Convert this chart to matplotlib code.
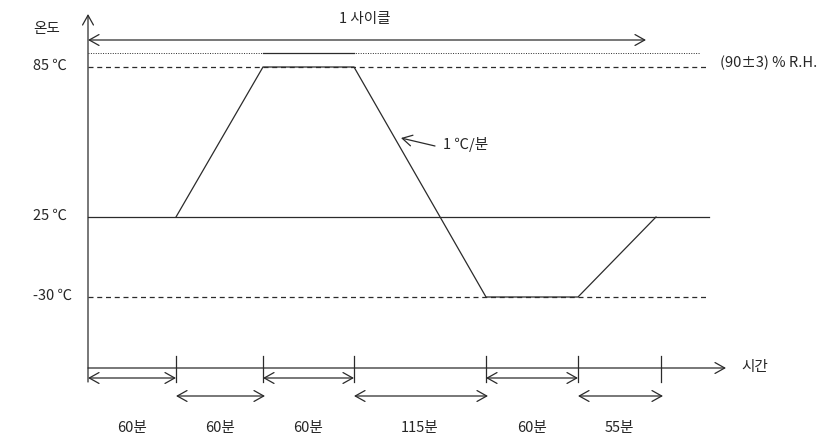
import matplotlib
matplotlib.use("Agg")
import matplotlib.pyplot as plt

plt.rcParams['font.family'] = ['Noto Sans CJK KR', 'DejaVu Sans']

# ---- data ----
durations = [60, 60, 60, 115, 60, 55]            # minutes per segment
duration_labels = [f"{d}분" for d in durations]
profile_temps = [25, 25, 85, 85, -30, -30, 25]  # temperature at each breakpoint
level_temps = [85, 25, -30]
level_labels = ["85 ℃", "25 ℃", "-30 ℃"]
rate_label = "1 ℃/분"
humidity_label = "(90±3) % R.H."
cycle_label = "1 사이클"
y_label = "온도"
x_label = "시간"

# ---- schematic layout (pixel positions of the diagram) ----
bx = [88, 176, 263, 354, 486, 578, 661]          # breakpoint x positions
level_y = {85: 67, 25: 217, -30: 297}
ramp_end_x = 656
axis_y = 368

W, H = 832, 437
fig = plt.figure(figsize=(W / 100, H / 100), dpi=100)
ax = fig.add_axes([0, 0, 1, 1])
ax.set_xlim(0, W)
ax.set_ylim(H, 0)
ax.axis('off')

lc = '#2b2b2b'
tc = '#262626'
lw = 0.9
fs = 10.5
head2 = '<->, head_length=0.5, head_width=0.28'
head1 = '->, head_length=0.5, head_width=0.28'


def arrow(x0, y0, x1, y1, style):
    ax.annotate('', xy=(x1, y1), xytext=(x0, y0),
                arrowprops=dict(arrowstyle=style, color=lc, lw=lw, mutation_scale=14,
                                shrinkA=0, shrinkB=0))


# profile polyline
xs = [bx[1], bx[2], bx[3], bx[4], bx[5], ramp_end_x]
ys = [level_y[t] for t in profile_temps[1:]]
ax.plot(xs, ys, color=lc, lw=lw, solid_joinstyle='miter')

# level lines
ax.plot([bx[0], 709], [level_y[25], level_y[25]], color=lc, lw=lw)
ax.plot([bx[0], 706], [level_y[85], level_y[85]], color=lc, lw=lw, dashes=(4, 3))
ax.plot([bx[0], 706], [level_y[-30], level_y[-30]], color=lc, lw=lw, dashes=(4, 3))
# humidity dotted line with solid portion over the 85 dwell
ax.plot([bx[0], 700], [53, 53], color=lc, lw=0.7, dashes=(1, 1.5))
ax.plot([bx[2], bx[3]], [53, 53], color=lc, lw=lw)

# axes
arrow(bx[0], 382, bx[0], 14, head1)
arrow(bx[0], axis_y, 726, axis_y, head1)
for x in bx[1:]:
    ax.plot([x, x], [356, 382], color=lc, lw=lw)

# cycle arrow
arrow(bx[0], 40, 646, 40, head2)
ax.text(365, 19, cycle_label, ha='center', va='center', fontsize=fs, color=tc)

# duration arrows
row_y = [378, 396]
for i, lab in enumerate(duration_labels):
    y = row_y[i % 2]
    x0, x1 = bx[i], bx[i + 1]
    arrow(x0, y, x1 + (2 if i % 2 else 0), y, head2)
    ax.text((x0 + x1) / 2, 428, lab, ha='center', va='center', fontsize=fs, color=tc)

# labels
ax.text(47, 29, y_label, ha='center', va='center', fontsize=fs, color=tc)
for t, lab in zip(level_temps, level_labels):
    ax.text(33, level_y[t] - 1, lab, ha='left', va='center', fontsize=fs, color=tc)
ax.text(720, 63, humidity_label, ha='left', va='center', fontsize=fs, color=tc)
ax.text(741, 367, x_label, ha='left', va='center', fontsize=fs, color=tc)

# rate annotation
arrow(435, 146, 401, 138, head1)
ax.text(443, 144, rate_label, ha='left', va='center', fontsize=fs, color=tc)

fig.savefig('out.png', dpi=100, facecolor='white')
